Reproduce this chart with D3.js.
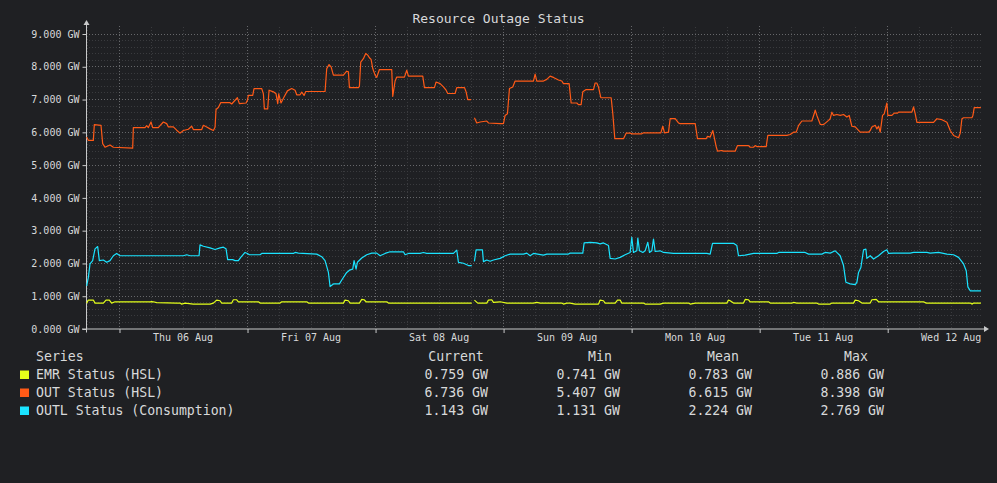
<!DOCTYPE html>
<html>
<head>
<meta charset="utf-8">
<script src="https://cdn.jsdelivr.net/npm/d3@7"></script>
<style>
  html, body { margin: 0; padding: 0; background: #1f2023; }
  svg { display: block; }
  text { font-family: "DejaVu Sans Mono", monospace; fill: #d8d9da; }
</style>
</head>
<body>
<div class="container"></div>
<script>
// DATA
// every point is [hours since the start of the window, GW]; null marks a gap in the feed
const startTime = new Date(2020, 7, 5, 17, 49);
const endTime = new Date(2020, 7, 12, 17, 35);

const emrStatus = [
  [0.125, 0.775], [0.44, 0.867], [1.375, 0.867], [1.69, 0.775], [3.25, 0.775], [3.75, 0.867],
  [4.375, 0.867], [4.81, 0.775], [5.44, 0.815], [12.0, 0.815], [12.31, 0.82], [12.625, 0.815],
  [13.25, 0.79], [17.0, 0.775], [17.625, 0.775], [17.94, 0.744], [18.56, 0.775], [20.125, 0.744],
  [23.25, 0.744], [23.875, 0.775], [24.5, 0.867], [25.125, 0.846], [25.44, 0.775], [27.31, 0.775],
  [27.625, 0.877], [28.25, 0.877], [28.56, 0.815], [32.31, 0.815], [32.625, 0.775], [36.375, 0.775],
  [36.69, 0.815], [41.375, 0.815], [41.69, 0.775], [48.25, 0.775], [48.56, 0.867], [49.19, 0.846],
  [49.5, 0.775], [51.25, 0.775], [51.69, 0.887], [52.125, 0.877], [52.5, 0.815], [56.375, 0.815],
  [56.69, 0.775], [72.31, 0.775], [72.5, null],
  [72.81, 0.867], [73.44, 0.775], [75.125, 0.775], [75.44, 0.867], [76.06, 0.877], [76.375, 0.795],
  [77.625, 0.815], [78.875, 0.775], [83.875, 0.775], [84.5, 0.795], [85.125, 0.775], [89.19, 0.775],
  [89.5, 0.744], [90.125, 0.775], [90.75, 0.775], [91.69, 0.744], [96.06, 0.744], [96.375, 0.867],
  [97.0, 0.846], [97.31, 0.775], [99.19, 0.775], [99.625, 0.867], [100.125, 0.867], [100.44, 0.775],
  [104.5, 0.775], [104.81, 0.744], [107.625, 0.744], [108.25, 0.775], [112.94, 0.775], [113.25, 0.744],
  [114.19, 0.775], [120.125, 0.775], [120.44, 0.867], [120.75, 0.846], [121.375, 0.775], [123.25, 0.775],
  [123.56, 0.887], [124.19, 0.877], [124.5, 0.815], [127.94, 0.815], [128.25, 0.775], [132.31, 0.775],
  [132.625, 0.795], [133.25, 0.775], [137.0, 0.775], [137.31, 0.744], [139.5, 0.744], [139.81, 0.775],
  [143.875, 0.775], [144.19, 0.867], [144.81, 0.846], [145.44, 0.775], [147.0, 0.775], [147.31, 0.877],
  [148.125, 0.887], [148.56, 0.815], [157.0, 0.815], [157.5, 0.775], [165.75, 0.775], [166.06, 0.744],
  [166.375, 0.775], [167.75, 0.775]
];

const outStatus = [
  [0.125, 5.84], [0.44, 5.74], [1.375, 5.74], [1.56, 6.22], [2.81, 6.20], [3.125, 5.64], [3.56, 5.53],
  [4.5, 5.60], [5.125, 5.53], [8.75, 5.50], [8.875, 6.13], [11.06, 6.13], [11.375, 6.19], [11.69, 6.13],
  [12.19, 6.30], [12.5, 6.13], [13.56, 6.13], [13.875, 6.19], [14.5, 6.30], [15.125, 6.25], [15.44, 6.15],
  [16.375, 6.15], [17.0, 6.05], [17.625, 5.96], [18.25, 6.04], [19.19, 6.08], [19.81, 6.17], [20.125, 6.07],
  [21.69, 6.07], [22.0, 6.20], [22.625, 6.15], [23.25, 6.09], [23.875, 6.04], [24.19, 6.14], [24.375, 6.68],
  [24.81, 6.74], [25.25, 6.89], [27.0, 6.89], [27.31, 6.85], [28.375, 7.04], [28.75, 6.86], [30.0, 6.88],
  [30.25, 6.96], [30.44, 7.11], [31.25, 7.11], [31.5, 7.32], [32.94, 7.32], [33.25, 7.16], [33.44, 6.70],
  [34.06, 6.70], [34.31, 7.27], [35.125, 7.22], [35.625, 7.16], [35.94, 6.86], [36.125, 7.16], [36.56, 6.88],
  [37.125, 7.06], [37.75, 7.25], [38.56, 7.32], [39.19, 7.27], [39.5, 7.13], [40.125, 7.13], [40.44, 7.21],
  [40.875, 7.11], [41.19, 7.23], [44.81, 7.23], [45.125, 7.93], [45.56, 8.05], [45.94, 7.98], [46.375, 7.73],
  [48.25, 7.73], [48.875, 7.85], [49.19, 7.83], [49.375, 7.35], [51.06, 7.35], [51.25, 7.39], [51.5, 8.13],
  [52.0, 8.23], [52.44, 8.39], [52.81, 8.34], [53.125, 8.26], [53.44, 8.21], [53.75, 7.93], [54.19, 7.73],
  [54.5, 7.66], [55.0, 7.90], [57.31, 7.90], [57.5, 7.08], [57.94, 7.55], [58.25, 7.67], [59.69, 7.67],
  [60.125, 7.88], [60.44, 7.70], [63.125, 7.70], [63.44, 7.35], [65.31, 7.35], [65.625, 7.52], [66.375, 7.47],
  [67.0, 7.37], [67.5, 7.27], [67.81, 7.17], [69.19, 7.17], [69.5, 7.35], [70.94, 7.35], [71.25, 7.22],
  [71.56, 6.98], [72.19, 6.98], [72.5, null],
  [72.81, 6.43], [73.25, 6.27], [73.875, 6.30], [75.125, 6.33], [75.44, 6.27], [77.625, 6.25], [78.25, 6.25],
  [78.56, 6.50], [79.0, 6.55], [79.375, 7.32], [80.0, 7.37], [80.44, 7.55], [83.875, 7.55], [84.19, 7.76],
  [84.5, 7.55], [85.75, 7.55], [86.375, 7.60], [87.0, 7.70], [87.625, 7.66], [88.56, 7.58], [89.19, 7.55],
  [89.5, 7.47], [90.56, 7.47], [90.94, 6.88], [92.0, 6.88], [92.31, 6.83], [92.81, 6.83], [93.125, 7.22],
  [93.75, 7.29], [95.125, 7.29], [95.44, 7.49], [95.75, 7.49], [96.06, 7.37], [96.5, 7.04], [98.44, 7.04],
  [98.75, 6.55], [99.125, 5.79], [100.75, 5.79], [101.25, 5.96], [102.0, 5.96], [102.31, 5.94], [104.19, 5.94],
  [104.5, 5.97], [107.75, 5.97], [108.125, 6.17], [108.44, 5.97], [109.19, 5.99], [109.5, 6.40], [110.44, 6.40],
  [111.06, 6.27], [111.375, 6.25], [114.19, 6.25], [114.625, 5.79], [116.25, 5.79], [116.5, 5.86], [117.0, 5.84],
  [117.5, 6.04], [118.125, 5.55], [118.375, 5.41], [119.19, 5.43], [119.5, 5.41], [121.69, 5.41], [122.125, 5.58],
  [124.19, 5.58], [124.5, 5.53], [125.125, 5.53], [125.44, 5.58], [125.75, 5.55], [127.5, 5.55], [127.81, 5.89],
  [131.375, 5.89], [132.0, 5.92], [132.625, 5.99], [133.125, 5.99], [133.56, 6.19], [134.19, 6.33], [136.06, 6.33],
  [136.5, 6.55], [136.69, 6.66], [137.0, 6.50], [137.625, 6.23], [138.25, 6.22], [139.19, 6.35], [139.5, 6.40],
  [139.81, 6.60], [140.125, 6.50], [140.75, 6.53], [141.375, 6.50], [142.0, 6.53], [142.625, 6.45], [143.06, 6.50],
  [143.56, 6.17], [144.19, 6.15], [145.125, 5.99], [146.69, 5.99], [147.0, 6.04], [147.31, 6.15], [147.94, 6.20],
  [148.25, 6.09], [148.56, 6.17], [148.875, 5.99], [149.31, 6.50], [149.625, 6.55], [150.125, 6.88], [150.31, 6.50],
  [151.06, 6.50], [151.5, 6.57], [152.125, 6.57], [152.31, 6.60], [154.81, 6.60], [155.125, 6.76], [155.44, 6.55],
  [155.75, 6.29], [158.875, 6.29], [159.5, 6.40], [160.44, 6.37], [161.375, 6.29], [162.0, 6.04], [162.625, 5.89],
  [163.56, 5.82], [163.875, 5.96], [164.19, 6.40], [164.5, 6.43], [166.06, 6.43], [166.25, 6.50], [166.5, 6.74],
  [167.75, 6.74]
];

const outlStatus = [
  [0.125, 1.30], [0.44, 1.56], [0.75, 1.97], [1.25, 2.07], [1.69, 2.43], [2.19, 2.50], [2.5, 2.07], [3.25, 2.09],
  [3.875, 2.02], [4.5, 2.07], [5.125, 2.22], [5.75, 2.29], [6.375, 2.22], [18.25, 2.22], [18.875, 2.25],
  [19.5, 2.22], [21.19, 2.22], [21.375, 2.55], [22.0, 2.51], [23.25, 2.46], [24.19, 2.41], [25.125, 2.46],
  [25.75, 2.48], [26.25, 2.43], [26.56, 2.10], [27.5, 2.10], [27.94, 2.07], [28.56, 2.07], [29.0, 2.17],
  [29.81, 2.32], [30.25, 2.29], [30.625, 2.25], [32.625, 2.25], [32.94, 2.29], [38.875, 2.29], [39.19, 2.32],
  [39.81, 2.30], [43.25, 2.27], [44.19, 2.19], [44.81, 2.07], [45.44, 1.71], [45.75, 1.28], [46.375, 1.36],
  [47.5, 1.36], [47.94, 1.48], [48.875, 1.71], [49.5, 1.79], [50.0, 1.81], [50.25, 2.07], [50.625, 1.81],
  [50.875, 2.02], [51.69, 2.15], [52.625, 2.25], [53.56, 2.30], [54.5, 2.30], [55.125, 2.22], [56.06, 2.29],
  [57.0, 2.34], [59.5, 2.34], [59.81, 2.25], [60.44, 2.29], [62.625, 2.29], [63.25, 2.32], [63.875, 2.29],
  [68.875, 2.29], [69.5, 2.39], [69.81, 2.02], [70.75, 1.99], [71.69, 1.92], [72.31, 1.92], [72.5, null],
  [72.81, 2.05], [73.125, 2.40], [74.31, 2.40], [74.5, 2.04], [75.125, 2.09], [75.75, 2.05], [76.375, 2.09],
  [77.625, 2.14], [78.56, 2.22], [79.5, 2.27], [82.0, 2.27], [82.625, 2.30], [83.25, 2.22], [83.875, 2.29],
  [85.75, 2.24], [86.375, 2.27], [90.44, 2.27], [90.75, 2.30], [93.125, 2.30], [93.375, 2.61], [94.5, 2.63],
  [95.75, 2.61], [96.375, 2.58], [97.0, 2.61], [97.94, 2.53], [98.25, 2.14], [99.19, 2.12], [100.125, 2.17],
  [101.06, 2.25], [102.0, 2.32], [102.31, 2.78], [102.625, 2.32], [103.25, 2.37], [103.44, 2.76], [103.75, 2.37],
  [104.375, 2.32], [104.81, 2.37], [105.31, 2.63], [105.625, 2.32], [106.06, 2.37], [106.375, 2.73], [106.69, 2.35],
  [107.625, 2.37], [108.25, 2.32], [110.125, 2.29], [116.375, 2.29], [117.0, 2.27], [117.44, 2.60], [121.375, 2.60],
  [122.0, 2.53], [122.31, 2.22], [123.56, 2.24], [125.125, 2.29], [129.5, 2.29], [129.81, 2.32], [134.81, 2.32],
  [135.44, 2.27], [137.94, 2.27], [138.56, 2.32], [139.5, 2.30], [140.44, 2.37], [141.375, 2.22], [142.0, 1.92],
  [142.44, 1.41], [143.25, 1.36], [144.19, 1.34], [144.5, 1.41], [144.81, 1.71], [145.25, 1.86], [145.75, 2.40],
  [146.19, 2.42], [146.375, 2.14], [147.0, 2.22], [147.625, 2.12], [148.56, 2.22], [149.5, 2.35], [150.125, 2.40],
  [150.44, 2.29], [151.375, 2.30], [154.5, 2.30], [155.125, 2.32], [157.625, 2.32], [158.25, 2.30], [159.81, 2.32],
  [161.375, 2.27], [162.625, 2.25], [163.56, 2.17], [164.5, 1.97], [165.0, 1.76], [165.31, 1.27], [165.75, 1.15],
  [167.75, 1.15]
];

// LEGEND TABLE
const seriesNames = ["EMR Status (HSL)", "OUT Status (HSL)", "OUTL Status (Consumption)"];
const seriesColors = ["#e4ff1a", "#ff5a17", "#1ae3ff"];
const statHeaders = ["Current", "Min", "Mean", "Max"];
const currentValues = ["0.759 GW", "6.736 GW", "1.143 GW"];
const minValues = ["0.741 GW", "5.407 GW", "1.131 GW"];
const meanValues = ["0.783 GW", "6.615 GW", "2.224 GW"];
const maxValues = ["0.886 GW", "8.398 GW", "2.769 GW"];
const yTicks = [0, 1, 2, 3, 4, 5, 6, 7, 8, 9];

// FRAME
const width = 997, height = 483;
const plot = { left: 86, right: 981, top: 33.5, bottom: 328.5 };

const svg = d3.select(".container")
  .append("svg")
  .attr("width", width)
  .attr("height", height);

svg.append("rect")
  .attr("width", width)
  .attr("height", height)
  .attr("fill", "#1f2023");

// TITLE
svg.append("text")
  .attr("x", width / 2)
  .attr("y", 23)
  .attr("text-anchor", "middle")
  .style("font-size", "13px")
  .text("Resource Outage Status");

// SCALES
const xScale = d3.scaleTime()
  .domain([startTime, endTime])
  .range([plot.left, plot.right]);

const yScale = d3.scaleLinear()
  .domain([0, 9])
  .range([plot.bottom, plot.top]);

const toDate = h => new Date(startTime.getTime() + h * 3600e3);

// GRID
// minor horizontal lines every 0.2 GW, major at every GW
const grid = svg.append("g").attr("class", "grid");

grid.selectAll(".hminor")
  .data(d3.range(0, 9.01, 0.2).filter(v => Math.abs(v - Math.round(v)) > 0.01))
  .enter()
  .append("line")
  .attr("x1", plot.left)
  .attr("x2", plot.right)
  .attr("y1", d => Math.round(yScale(d)) + 0.5)
  .attr("y2", d => Math.round(yScale(d)) + 0.5)
  .attr("stroke", "#3a3b3e")
  .attr("stroke-dasharray", "1,2");

grid.selectAll(".hmajor")
  .data(yTicks.slice(1))
  .enter()
  .append("line")
  .attr("x1", plot.left)
  .attr("x2", plot.right)
  .attr("y1", d => Math.round(yScale(d)) + 0.5)
  .attr("y2", d => Math.round(yScale(d)) + 0.5)
  .attr("stroke", "#66676a")
  .attr("stroke-dasharray", "1,2");

// vertical lines every 6 hours, stronger at midnight
grid.selectAll(".vminor")
  .data(xScale.ticks(d3.timeHour.every(6)).filter(d => d.getHours() !== 0))
  .enter()
  .append("line")
  .attr("x1", d => Math.round(xScale(d)) + 0.5)
  .attr("x2", d => Math.round(xScale(d)) + 0.5)
  .attr("y1", 27)
  .attr("y2", plot.bottom)
  .attr("stroke", "#3a3b3e")
  .attr("stroke-dasharray", "1,2");

grid.selectAll(".vmajor")
  .data(xScale.ticks(d3.timeDay.every(1)))
  .enter()
  .append("line")
  .attr("x1", d => Math.round(xScale(d)) + 0.5)
  .attr("x2", d => Math.round(xScale(d)) + 0.5)
  .attr("y1", 26)
  .attr("y2", plot.bottom)
  .attr("stroke", "#66676a")
  .attr("stroke-dasharray", "1,2");

// AXES
const yAxis = d3.axisLeft(yScale)
  .tickValues(yTicks)
  .tickSize(4)
  .tickPadding(3)
  .tickFormat(d => d3.format(".3f")(d) + " GW");

svg.append("g")
  .attr("transform", `translate(${plot.left + 0.5}, 0.5)`)
  .call(yAxis)
  .call(g => g.select(".domain").remove())
  .call(g => g.selectAll("line").attr("stroke", "#c8c9ca"))
  .call(g => g.selectAll("text").style("font-size", "10px").attr("fill", "#d8d9da"));

const xAxis = d3.axisBottom(xScale)
  .ticks(d3.timeDay.every(1))
  .tickSize(4)
  .tickFormat("");

svg.append("g")
  .attr("transform", `translate(0.5, ${plot.bottom + 0.5})`)
  .call(xAxis)
  .call(g => g.select(".domain").remove())
  .call(g => g.selectAll("line").attr("stroke", "#c8c9ca"));

// day labels sit at noon, between the midnight ticks
svg.append("g")
  .selectAll("text")
  .data(xScale.ticks(d3.timeHour.every(12)).filter(d => d.getHours() === 12))
  .enter()
  .append("text")
  .attr("x", d => xScale(d))
  .attr("y", 341)
  .attr("text-anchor", "middle")
  .style("font-size", "10px")
  .text(d => d3.timeFormat("%a %d %b")(d));

// axis lines with arrow heads
const axisColor = "#c8c9ca";
svg.append("line")
  .attr("x1", plot.left + 0.5).attr("x2", plot.left + 0.5)
  .attr("y1", 24).attr("y2", plot.bottom + 4)
  .attr("stroke", axisColor);
svg.append("line")
  .attr("x1", plot.left - 4).attr("x2", 985)
  .attr("y1", plot.bottom + 0.5).attr("y2", plot.bottom + 0.5)
  .attr("stroke", axisColor);
svg.append("path")
  .attr("d", `M${plot.left - 2.5},25 L${plot.left + 3.5},25 L${plot.left + 0.5},20 Z`)
  .attr("fill", axisColor);
svg.append("path")
  .attr("d", `M984,${plot.bottom - 2.5} L984,${plot.bottom + 3.5} L989,${plot.bottom + 0.5} Z`)
  .attr("fill", axisColor);

// LINES
const line = d3.line()
  .defined(d => d[1] != null)
  .x(d => xScale(toDate(d[0])))
  .y(d => yScale(d[1]));

const seriesData = [emrStatus, outStatus, outlStatus];

svg.append("g")
  .selectAll("path")
  .data(seriesData)
  .enter()
  .append("path")
  .attr("d", line)
  .attr("fill", "none")
  .attr("stroke", (d, i) => seriesColors[i])
  .attr("stroke-width", 1.2)
  .attr("stroke-linejoin", "round");

// LEGEND
const legend = svg.append("g")
  .attr("id", "legend")
  .style("font-size", "13.2px");

legend.append("text")
  .attr("x", 36)
  .attr("y", 361)
  .text("Series");

const headerCenters = [456, 600, 723, 856];
legend.selectAll(".header")
  .data(statHeaders)
  .enter()
  .append("text")
  .attr("x", (d, i) => headerCenters[i])
  .attr("y", 361)
  .attr("text-anchor", "middle")
  .text(d => d);

const rows = legend.selectAll(".row")
  .data(seriesNames)
  .enter()
  .append("g")
  .attr("transform", (d, i) => `translate(0, ${379 + i * 18})`);

rows.append("rect")
  .attr("x", 20)
  .attr("y", -8.5)
  .attr("width", 9)
  .attr("height", 8.5)
  .attr("fill", (d, i) => seriesColors[i]);

rows.append("text")
  .attr("x", 36)
  .text(d => d);

const valueColumns = [currentValues, minValues, meanValues, maxValues];
const columnRights = [488, 620, 752, 884];
valueColumns.forEach((col, c) => {
  rows.append("text")
    .attr("x", columnRights[c])
    .attr("text-anchor", "end")
    .text((d, i) => col[i]);
});
</script>
</body>
</html>
